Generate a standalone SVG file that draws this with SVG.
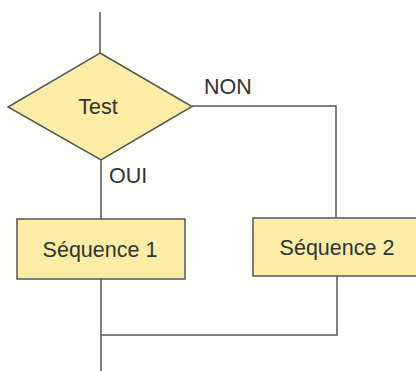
<svg xmlns="http://www.w3.org/2000/svg" width="416" height="371" viewBox="0 0 416 371">
<style>
.node{fill:#fbeca6;stroke:#555;stroke-width:1.5}
.ln{fill:none;stroke:#555;stroke-width:1.5}
text{font-family:"Liberation Sans",Arial,sans-serif;font-size:21.5px;fill:#333}
.c{text-anchor:middle}
</style>
<rect width="416" height="371" fill="#fdfdf9"/>
<g id="connectors">
<path class="ln" d="M100,12 V53"/>
<path class="ln" d="M101,160 V219"/>
<path class="ln" d="M192,106 H336 V218"/>
<path class="ln" d="M101,279 V371"/>
<path class="ln" d="M337,276 V335 H101"/>
</g>
<g id="test">
<polygon class="node" points="100,53 192,106.5 101,160 8,107"/>
<text class="c" x="98" y="114">Test</text>
</g>
<g id="seq1">
<rect class="node" x="17" y="219" width="168" height="60"/>
<text class="c" x="100" y="257">Séquence 1</text>
</g>
<g id="seq2">
<rect class="node" x="253" y="218" width="170" height="58"/>
<text class="c" x="337" y="255">Séquence 2</text>
</g>
<g id="labels">
<text x="204" y="94">NON</text>
<text x="109" y="183">OUI</text>
</g>
</svg>
